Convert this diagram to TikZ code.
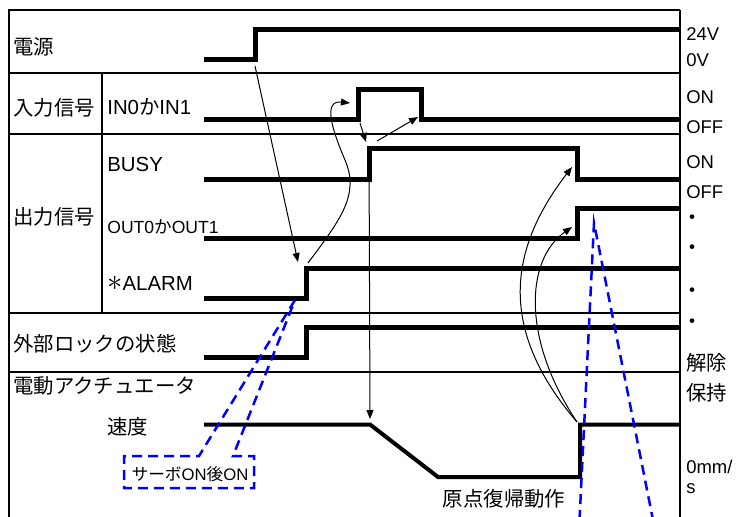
\documentclass[tikz,border=0pt]{standalone}
\usepackage{fontspec}
\setmainfont{Liberation Sans}
\newfontfamily\jp{Noto Sans CJK JP}
\usetikzlibrary{arrows.meta}

\tikzset{
    sig/.style={line width=1mm},
    rule/.style={line width=0.3mm},
    cause/.style={line width=0.2mm,-{Triangle[length=1.8mm,width=1.4mm]}},
    memo/.style={blue,line width=0.5mm,dash pattern=on 2mm off 1.2mm},
    lbl/.style={inner sep=0pt,font=\fontsize{11.6}{14}\selectfont},
    lvl/.style={inner sep=0pt,anchor=base west,font=\fontsize{10.5}{12}\selectfont},
}

\begin{document}
\begin{tikzpicture}[x=0.2mm,y=-0.2mm]
    \useasboundingbox (0,0) rectangle (742,516);

    % table
    \draw[rule] (9,520) -- (9,10) -- (680,10);
    \draw[line width=0.5mm] (680,10) -- (680,331);
    \draw[rule] (680,331) -- (680,520);
    \foreach \y in {73,134,313,372}
        \draw[rule] (9,\y) -- (680,\y);
    \draw[rule] (102,73) -- (102,313);

    % row labels
    \node[lbl,anchor=west] (pwr) at (13,47) {\jp 電源};
    \node[lbl,anchor=west] (insig) at (13,107.5) {\jp 入力信号};
    \node[lbl,anchor=base west] (in01) at (107,114.5) {IN0{\jp か}IN1};
    \node[lbl,anchor=base west] (busy) at (107,171) {BUSY};
    \node[lbl,anchor=west] (outsig) at (13,217) {\jp 出力信号};
    \node[lbl,anchor=base west,font=\fontsize{10}{12}\selectfont] (out01) at (107,233) {OUT0{\jp か}OUT1};
    \node[lbl,anchor=base west] (alarm) at (107,290) {\scalebox{1.45}{$\ast$}ALARM};
    \node[lbl,anchor=west] (lock) at (13,344) {\jp 外部ロックの状態};
    \node[lbl,anchor=west] (act) at (13,386) {\jp 電動アクチュエータ};
    \node[lbl,anchor=west] (speed) at (107,426.5) {\jp 速度};

    % levels
    \node[lvl] (v24) at (686,41) {24V};
    \node[lvl] (v0) at (686,67) {0V};
    \node[lvl] (inon) at (686,103) {ON};
    \node[lvl] (inoff) at (686,133) {OFF};
    \node[lvl] (busyon) at (686,168.5) {ON};
    \node[lvl] (busyoff) at (686,198) {OFF};
    \foreach \y/\n in {220/a,250/b,293/c,324/d}
        \node[lbl,font=\fontsize{12.5}{14}\jp] (dot\n) at (692,\y) {・};
    \node[lbl,anchor=west,font=\fontsize{11.6}{14}\jp] (free) at (686,363) {解除};
    \node[lbl,anchor=west,font=\fontsize{11.6}{14}\jp] (hold) at (686,393) {保持};
    \node[lvl] (zero) at (686,473) {0mm/};
    \node[lvl] (zeros) at (686,493) {s};

    % signals
    \draw[sig] (204,60) -- (255,60) -- (255,30) -- (680,30);
    \draw[sig] (204,119.5) -- (358.5,119.5) -- (358.5,89) -- (421,89) -- (421,119.5) -- (680,119.5);
    \draw[sig] (204,179) -- (369,179) -- (369,148) -- (577,148) -- (577,179) -- (680,179);
    \draw[sig] (204,238) -- (577,238) -- (577,208) -- (680,208);
    \draw[sig] (204,298) -- (306.5,298) -- (306.5,268) -- (680,268);
    \draw[sig] (204,357) -- (306.5,357) -- (306.5,327) -- (680,327);
    \draw[sig,line width=0.8mm] (204,424.5) -- (370,424.5) -- (438,477) -- (580,477) -- (580,424.5) -- (680,424.5);

    % causes
    \coordinate (pwrup) at (255,66);
    \coordinate (almtip) at (298,262);
    \coordinate (almup) at (308,263);
    \coordinate (inup) at (350,103);
    \coordinate (inlow) at (360,123);
    \coordinate (busytip) at (366,142);
    \coordinate (busyfrom) at (377,141);
    \coordinate (indown) at (418,117);
    \coordinate (busyrise) at (369,150);
    \coordinate (spddown) at (370,419);
    \coordinate (spdup) at (577,422);
    \coordinate (busydown) at (572,167);
    \coordinate (outup) at (572,227);

    \draw[cause] (pwrup) -- (almtip);
    \draw[cause] (almup) .. controls (340,220) and (360,195) .. (345,160)
        .. controls (333,132) and (322,100) .. (inup);
    \draw[cause] (inlow) -- (busytip);
    \draw[cause] (busyfrom) -- (indown);
    \draw[cause] (busyrise) -- (spddown);
    \draw[cause] (spdup) .. controls (498,330) and (508,250) .. (busydown);
    \draw[cause] (spdup) .. controls (522,340) and (525,260) .. (outup);

    % notes
    \coordinate (almlow) at (295,300);
    \coordinate (outhigh) at (594,223);
    \draw[memo] (almlow) -- (199,456) -- (124,456) -- (124,488) -- (254,488)
        -- (254,456) -- (233,456) -- cycle;
    \node[lbl,font=\fontsize{9.5}{11}\selectfont] (servo) at (190,474) {{\jp サーボ}ON{\jp 後}ON};
    \draw[memo] (579.5,520) -- (outhigh) -- (653,520);
    \node[lbl,font=\fontsize{11.6}{14}\jp] (homing) at (504,499) {原点復帰動作};
\end{tikzpicture}
\end{document}
